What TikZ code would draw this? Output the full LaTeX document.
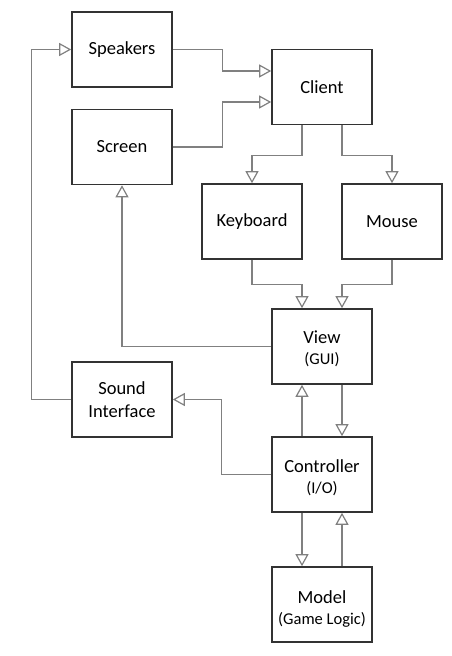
\documentclass[tikz,border=0pt]{standalone}
\usepackage{fontspec}
\setmainfont{Carlito}
\usetikzlibrary{arrows.meta,calc}
\definecolor{linegray}{HTML}{808080}
\definecolor{boxdark}{HTML}{333333}
\newcommand{\subf}{\fontsize{16.5}{19}\selectfont}
\newcommand{\dropstrut}[1]{\rule{0pt}{#1}}
\begin{document}
\begin{tikzpicture}[x=1pt,y=-1pt,
  box/.style={draw=boxdark, line width=1.6pt, fill=white, minimum width=100pt, minimum height=75pt,
    inner sep=0pt, align=center, font=\fontsize{18.5}{21}\selectfont, text=black},
  conn/.style={draw=linegray, line width=1.3pt, -{Triangle[open, length=12pt, width=13pt, line width=1.2pt]}},
]
\useasboundingbox (0,0) rectangle (451,656);
\fill[white] (0,0) rectangle (451,656);
\node[box] (speakers) at (122,49.5) {Speakers};
\node[box] (client) at (322,87) {Client};
\node[box] (screen) at (122,147) {Screen};
\node[box] (keyb) at (252,221.5) {Keyboard};
\node[box] (mouse) at (392,221.5) {Mouse};
\node[box] (view) at (322,346.5) {\dropstrut{17pt}View\\{\subf (GUI)}};
\node[box] (sound) at (122,399.5) {Sound\\[2pt]Interface};
\node[box] (ctrl) at (322,474.5) {\dropstrut{20pt}Controller\\{\subf (I/O)}};
\node[box] (model) at (322,604.5) {\dropstrut{22pt}Model\\{\subf (Game Logic)}};

\draw[conn] (sound.west) -- ++(-40,0) |- (speakers.west);
\draw[conn] (speakers.east) -- ++(50,0) |- ([yshift=16pt]client.west);
\draw[conn] (screen.east) -- ++(50,0) |- ([yshift=-15pt]client.west);
\draw[conn] ([xshift=-20pt]client.south) -- ++(0,30) -| (keyb.north);
\draw[conn] ([xshift=20pt]client.south) -- ++(0,30) -| (mouse.north);
\draw[conn] (keyb.south) -- ++(0,25) -| ([xshift=-20pt]view.north);
\draw[conn] (mouse.south) -- ++(0,25) -| ([xshift=20pt]view.north);
\draw[conn] (view.west) -| (screen.south);
\draw[conn] (ctrl.west) -- ++(-50,0) |- (sound.east);
\draw[conn] ([xshift=-20pt]ctrl.north) -- ([xshift=-20pt]view.south);
\draw[conn] ([xshift=20pt]view.south) -- ([xshift=20pt]ctrl.north);
\draw[conn] ([xshift=-20pt]ctrl.south) -- ([xshift=-20pt]model.north);
\draw[conn] ([xshift=20pt]model.north) -- ([xshift=20pt]ctrl.south);
\end{tikzpicture}
\end{document}
